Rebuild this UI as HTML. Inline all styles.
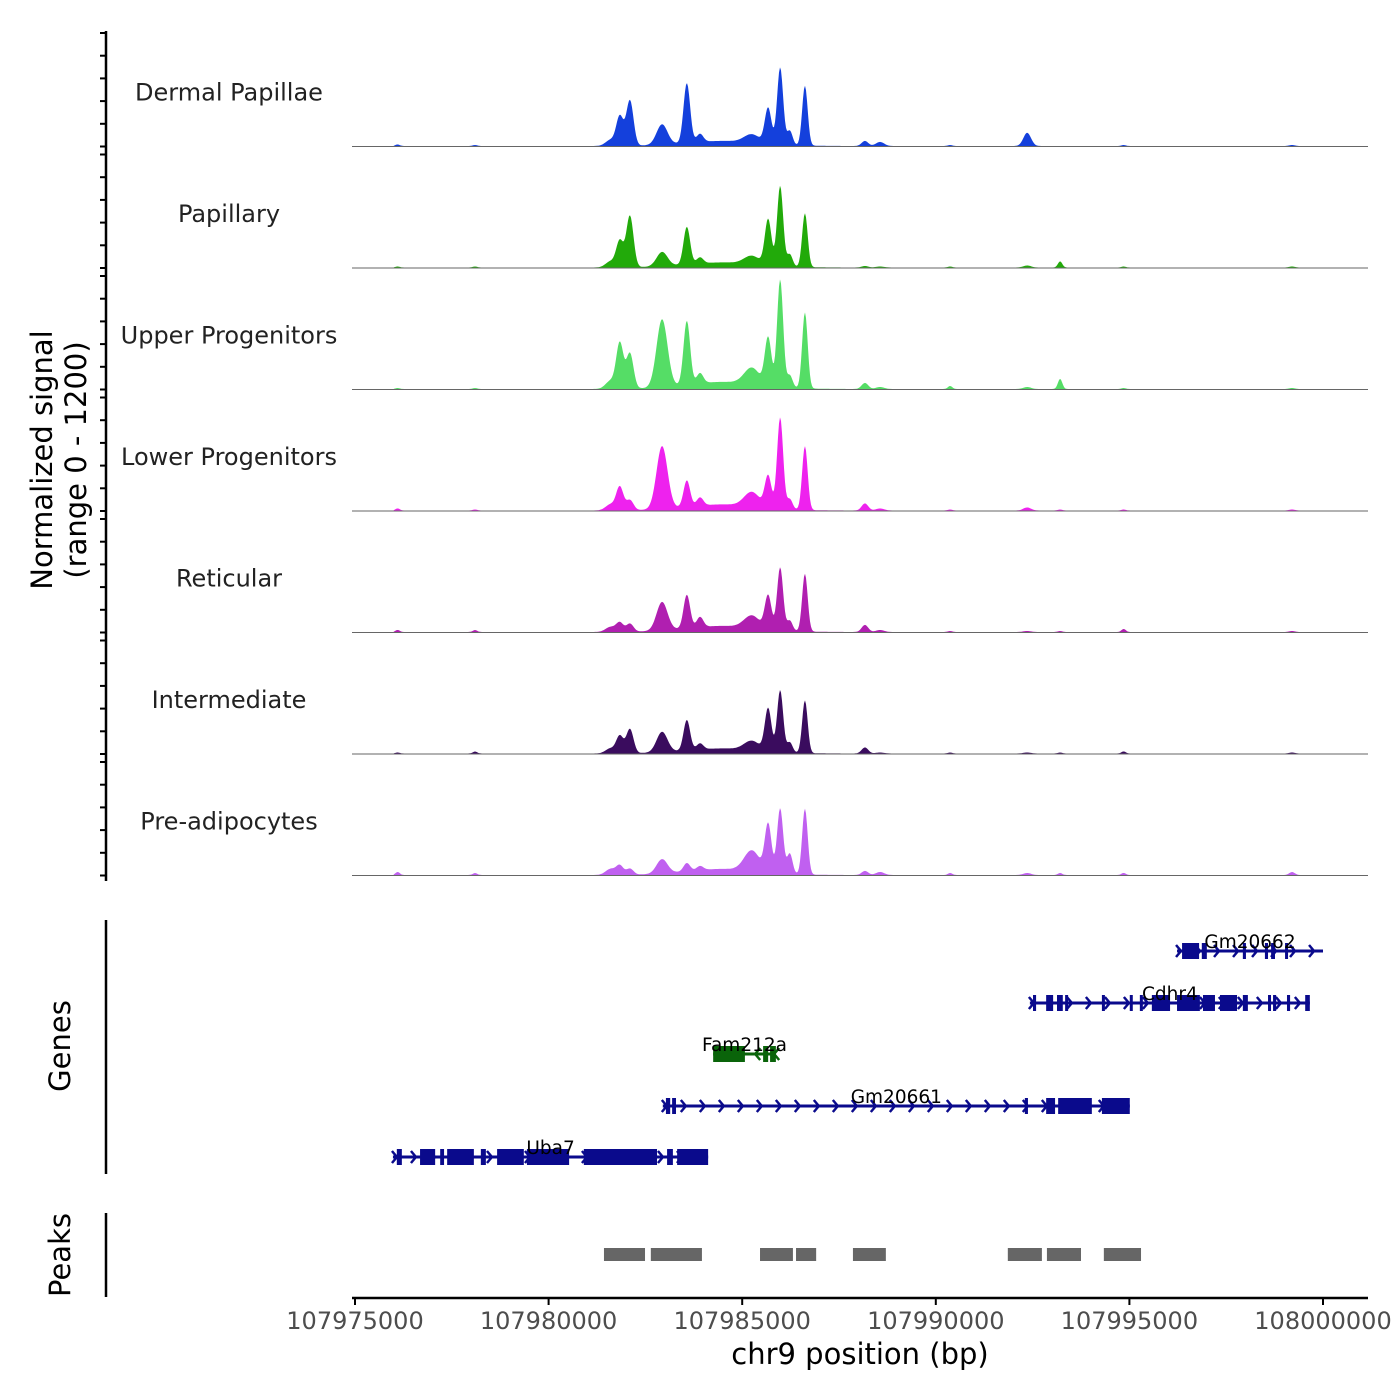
<!DOCTYPE html>
<html><head><meta charset="utf-8">
<style>
html,body{margin:0;padding:0;background:#fff}
svg{display:block;font-family:"DejaVu Sans","Liberation Sans",sans-serif}
</style></head>
<body>
<svg id="chart" width="1400" height="1400" viewBox="0 0 1400 1400" xmlns="http://www.w3.org/2000/svg">
<g id="tracks"></g>
<g id="genes"></g>
<g id="peaks"></g>
<g id="axes"></g>
<text transform="translate(52,460) rotate(-90)" text-anchor="middle" font-size="29" fill="#000">Normalized signal</text>
<text transform="translate(86,460) rotate(-90)" text-anchor="middle" font-size="29" fill="#000">(range 0 - 1200)</text>
<text transform="translate(70,1046) rotate(-90)" text-anchor="middle" font-size="29" fill="#000">Genes</text>
<text transform="translate(70,1255) rotate(-90)" text-anchor="middle" font-size="29" fill="#000">Peaks</text>
<text x="860" y="1364" text-anchor="middle" font-size="29" fill="#000">chr9 position (bp)</text>
</svg>
<script>
// ---- data (positions in kb on chr9) ----
const trackNames = ["Dermal Papillae","Papillary","Upper Progenitors","Lower Progenitors","Reticular","Intermediate","Pre-adipocytes"];
const trackColors = ["#1440dc","#22aa0a","#55dd66","#ee22ee","#b01fb0","#3a0c5e","#c060f0"];
const peakCenters = [107976.1,107978.1,107981.6,107981.84,107982.10,107982.93,107983.57,107983.91,107984.5,107985.25,107985.67,107985.98,107986.23,107986.62,107988.17,107988.56,107990.37,107992.36,107993.21,107994.85,107999.2];
const peakWidths  = [0.08,0.08,0.18,0.13,0.13,0.20,0.12,0.12,1.40,0.28,0.12,0.11,0.10,0.10,0.12,0.15,0.08,0.14,0.08,0.08,0.10];
const sigDP   = [15,10,60,290,450,200,590,80,50,80,350,760,140,590,50,40,10,130,0,10,10];
const sigPap  = [10,10,60,260,510,140,370,60,50,80,450,790,120,530,15,10,10,20,60,10,10];
const sigUpp  = [10,10,80,450,350,670,630,100,70,160,470,1060,120,750,60,20,30,20,100,10,10];
const sigLow  = [20,10,60,230,100,620,260,80,60,140,310,900,100,630,70,20,10,30,10,10,10];
const sigRet  = [20,20,50,90,80,280,330,100,60,120,330,620,100,570,70,20,10,10,10,30,10];
const sigInt  = [10,20,50,170,240,200,300,60,50,90,420,610,100,520,60,10,10,10,10,20,10];
const sigPre  = [30,20,60,90,60,140,80,40,60,200,470,640,200,650,40,30,20,20,20,20,30];
const trackSignals = [sigDP,sigPap,sigUpp,sigLow,sigRet,sigInt,sigPre];

const geneNames = ["Gm20662","Cdhr4","Fam212a","Gm20661","Uba7"];
const geneStrand = [1,1,-1,1,1];
const geneColors = ["#0a0a8c","#0a0a8c","#0a640a","#0a0a8c","#0a0a8c"];
const geneSpans = [[107996.23,108000.0],[107992.43,107999.66],[107984.25,107985.87],[107982.95,107995.01],[107975.98,107984.12]];
const geneExons = [
 [[107996.36,107996.80],[107996.87,107997.00],[107997.93,107998.01],[107998.50,107998.58],[107998.66,107998.76],[107999.02,107999.07]],
 [[107992.51,107992.59],[107992.85,107993.03],[107993.13,107993.28],[107993.34,107993.41],[107994.29,107994.34],[107995.01,107995.07],[107995.27,107995.33],[107995.58,107996.05],[107996.23,107996.82],[107996.90,107997.21],[107997.34,107997.78],[107997.93,107998.06],[107998.58,107998.63],[107998.71,107998.79],[107999.07,107999.15],[107999.54,107999.66]],
 [[107984.25,107985.07],[107985.54,107985.67],[107985.72,107985.87]],
 [[107983.03,107983.14],[107983.19,107983.29],[107992.30,107992.38],[107992.85,107993.08],[107993.16,107994.03],[107994.29,107995.01]],
 [[107976.08,107976.21],[107976.68,107977.07],[107977.20,107977.30],[107977.38,107978.07],[107978.25,107978.38],[107978.67,107979.36],[107979.44,107980.53],[107980.91,107982.80],[107983.06,107983.21],[107983.32,107984.12]]
];
const peakStarts = [107981.43,107982.64,107985.46,107986.39,107987.86,107991.86,107992.87,107994.34];
const peakEnds   = [107982.49,107983.96,107986.31,107986.91,107988.71,107992.74,107993.75,107995.30];
const xTicks = [107975000,107980000,107985000,107990000,107995000,108000000];

// ---- scales ----
const NS="http://www.w3.org/2000/svg";
const x = kb => 355 + (kb-107975)*968/25;
const trackTop = 25, trackH = 121.5;
const yUnit = v => v*trackH/1200;
function mk(tag, attrs, parent){const e=document.createElementNS(NS,tag);for(const k in attrs)e.setAttribute(k,attrs[k]);parent.appendChild(e);return e;}

// ---- signal tracks ----
const gT=document.getElementById('tracks');
trackNames.forEach((name,i)=>{
  const base = trackTop + trackH*(i+1);
  const vals = trackSignals[i];
  let d = "M352,"+base;
  for(let px=352; px<=1368; px+=1){
    const kb = 107975 + (px-355)*25/968;
    if(kb<107976||kb>107999.9){ d+=" L"+px+","+base; continue; }
    let s=5;
    for(let j=0;j<peakCenters.length;j++){const z=(kb-peakCenters[j])/peakWidths[j]; s+=vals[j]*Math.exp(-z*z);}
    d+=" L"+px+","+(base-yUnit(s)).toFixed(1);
  }
  d+=" L1368,"+base+" Z";
  const p=mk('path',{d:d,fill:trackColors[i],stroke:'none'},gT);
  
  
  const bl=mk('line',{x1:352,x2:1368,y1:base,y2:base,stroke:'#666','stroke-width':1},gT);
  
  
  const t=mk('text',{x:229,y:base-46,'text-anchor':'middle','font-size':24,fill:'#222'},gT);
  t.textContent=name;
  
  
});

// ---- genes ----
const gG=document.getElementById('genes');
const rowY=[951,1003,1054,1106,1157];
geneNames.forEach((g,i)=>{
  const y=rowY[i], c=geneColors[i], sp=geneSpans[i];
  const grp=mk('g',{},gG);
  
  
  mk('line',{x1:x(sp[0]),x2:x(sp[1]),y1:y,y2:y,stroke:c,'stroke-width':3},grp);
  for(let px=x(sp[0])+4; px<x(sp[1]); px+=19){
    const dx=geneStrand[i]*5;
    mk('polyline',{points:(px-dx)+","+(y-6)+" "+px+","+y+" "+(px-dx)+","+(y+6),fill:'none',stroke:c,'stroke-width':2.5},grp);
  }
  geneExons[i].forEach(e=>{
    mk('rect',{x:x(e[0]),y:y-8,width:Math.max(3,x(e[1])-x(e[0])),height:16,fill:c},grp);
  });
  const t=mk('text',{x:(x(sp[0])+x(sp[1]))/2,y:y-3,'text-anchor':'middle','font-size':18.5,fill:'#000'},grp);
  t.textContent=g;
  
  
});

// ---- peaks ----
const gP=document.getElementById('peaks');
peakStarts.forEach((s,i)=>{
  const r=mk('rect',{x:x(s),y:1248,width:x(peakEnds[i])-x(s),height:13,fill:'#666'},gP);
  
  
});

// ---- axes ----
const gA=document.getElementById('axes');
mk('line',{x1:106,x2:106,y1:31,y2:881,stroke:'#000','stroke-width':2.5},gA);
for(let i=0;i<7;i++){
  const top=trackTop+trackH*i;
  for(let k=0;k<=5;k++){
    const yy=top+8+k*(trackH-8)/5;
    mk('line',{x1:100,x2:106,y1:yy,y2:yy,stroke:'#000','stroke-width':2},gA);
  }
}
mk('line',{x1:106,x2:106,y1:920,y2:1174,stroke:'#000','stroke-width':2.5},gA);
mk('line',{x1:106,x2:106,y1:1213,y2:1297,stroke:'#000','stroke-width':2.5},gA);
mk('line',{x1:352,x2:1368,y1:1298,y2:1298,stroke:'#000','stroke-width':2.5},gA);
xTicks.forEach(v=>{
  const px=x(v/1000);
  mk('line',{x1:px,x2:px,y1:1298,y2:1305,stroke:'#000','stroke-width':2},gA);
  const t=mk('text',{x:px,y:1329,'text-anchor':'middle','font-size':24,fill:'#4d4d4d'},gA);
  t.textContent=String(v);
  
  
});
</script>
</body></html>
